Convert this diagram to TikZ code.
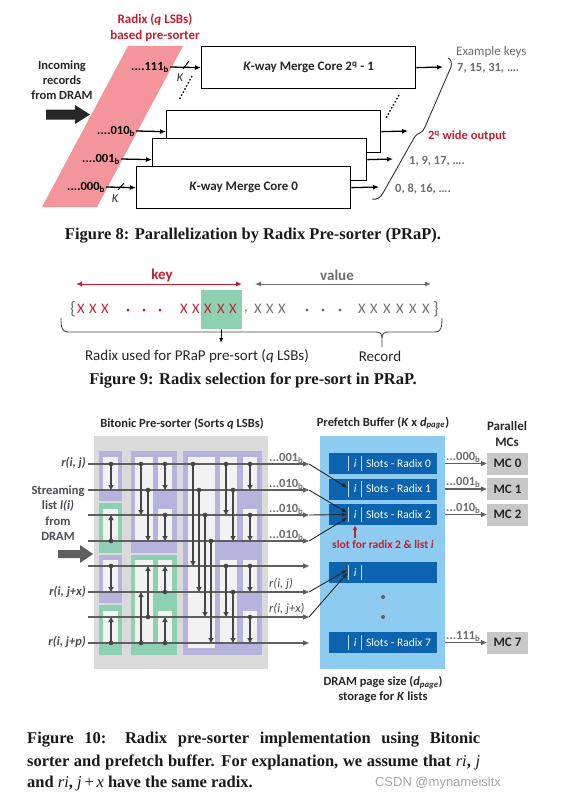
\documentclass[tikz,border=0pt]{standalone}
\usepackage{fontspec}
\setmainfont{Carlito}
\newfontfamily\capfont{Liberation Serif}
\newfontfamily\wmfont{Liberation Sans}
\usetikzlibrary{arrows.meta,calc}
\definecolor{pinkR}{RGB}{244,149,155}
\definecolor{redT}{RGB}{196,30,48}
\definecolor{darkT}{RGB}{38,38,38}
\definecolor{grayT}{RGB}{110,110,110}
\definecolor{lav}{RGB}{182,179,221}
\definecolor{grn}{RGB}{142,208,178}
\definecolor{bgG}{RGB}{218,218,218}
\definecolor{whP}{RGB}{242,242,242}
\definecolor{wireC}{RGB}{95,95,95}
\definecolor{cmpC}{RGB}{70,70,70}
\definecolor{pfb}{RGB}{142,203,240}
\definecolor{slotB}{RGB}{12,99,175}
\definecolor{mcG}{RGB}{200,200,200}
\definecolor{lblT}{RGB}{75,75,85}
\newcommand{\cmpr}[3]{\fill[cmpC] (#1,#2) circle (2.3);\draw[cmpst] (#1,#2) -- (#1,#3);}
\tikzset{
  lbl/.style={inner sep=0pt, font=\bfseries\fontsize{12.5}{15}\selectfont, text=darkT},
  core/.style={draw=black, line width=1.3pt, fill=white, anchor=north west, inner sep=0pt,
    minimum width=214, minimum height=42, font=\bfseries\fontsize{13}{15}\selectfont, text=darkT},
  arr/.style={line width=1.3pt, -{Latex[length=6pt,width=5pt]}},
  xch/.style={inner sep=0pt, font=\fontsize{14.5}{16}\selectfont},
  brch/.style={inner sep=0pt, font=\fontsize{18}{20}\selectfont},
  cmpst/.style={line width=1.6pt, draw=cmpC, -{Triangle[length=5pt,width=5pt]}},
  wirest/.style={line width=1.3pt, draw=wireC, -{Triangle[length=6pt,width=5pt]}},
  blk/.style={line width=0.9pt, draw=black!85, -{Latex[length=6pt,width=4pt]}},
  grayarr/.style={line width=1.3pt, draw=wireC, -{Triangle[length=6pt,width=5pt]}},
  slotbox/.style={fill=slotB, minimum width=108, minimum height=21, inner sep=0pt},
  mc/.style={fill=mcG, minimum width=41, minimum height=22, inner sep=0pt, font=\bfseries\fontsize{13}{15}\selectfont, text=darkT},
  captxt/.style={inner sep=0pt, font=\capfont\bfseries\fontsize{16.5}{20}\selectfont, text=black!90},
}
\begin{document}
\begin{tikzpicture}[x=1pt,y=-1pt]
\useasboundingbox (0,0) rectangle (577,800);
% ================= Figure 8 =================
\fill[pinkR] (128,46) -- (183,46) -- (97,207) -- (42,207) -- cycle;
\node[lbl, text=redT, align=center, font=\bfseries\fontsize{13}{15.5}\selectfont] (rtitle) at (155,27.5) {Radix (\textit{q} LSBs)\\based pre-sorter};
\node[lbl, align=center] (incoming) at (62,80) {Incoming\\records\\from DRAM};
\fill[black!85] (46,109.5) -- (75,109.5) -- (75,105) -- (90,114.5) -- (75,124) -- (75,119.5) -- (46,119.5) -- cycle;

\node[core] (core7) at (201,46) {\textit{K}-way Merge Core 2\textsuperscript{q} - 1};
\node[core] (core2) at (166,110) {};
\node[core] (core1) at (152,138) {};
\node[core] (core0) at (136,166) {\textit{K}-way Merge Core 0};

\node[lbl, anchor=east, inner sep=1pt, text=black] (r111) at (170,67) {....111\textsubscript{b}};
\node[lbl, anchor=east, inner sep=1pt, text=black] (r010) at (136,131) {....010\textsubscript{b}};
\node[lbl, anchor=east, inner sep=1pt, text=black] (r001) at (121,159) {....001\textsubscript{b}};
\node[lbl, anchor=east, inner sep=1pt, text=black] (r000) at (106,187) {....000\textsubscript{b}};
\draw[arr] (r111.east) -- (core7.west);
\draw[arr] (r010.east) -- (core2.west);
\draw[arr] (r001.east) -- (core1.west);
\draw[arr] (r000.east) -- (core0.west);
\draw[line width=1pt] (183,69) -- (189,61);
\draw[line width=1pt] (118,190) -- (124,183);
\node[lbl, font=\itshape\fontsize{12}{14}\selectfont] (kt) at (180,78) {K};
\node[lbl, font=\itshape\fontsize{12}{14}\selectfont] (kb) at (115,199) {K};
\draw[line width=1.3pt, dash pattern=on 1.5pt off 2pt] (192,76) -- (179,100);
\draw[line width=1.3pt, dash pattern=on 1.5pt off 2pt] (399,95) -- (386,118);

\coordinate (o7) at (443,67);
\coordinate (o2) at (408,131);
\coordinate (o1) at (393,159);
\coordinate (o0) at (379,187);
\draw[arr] (core7.east) -- (o7);
\draw[arr] (core2.east) -- (o2);
\draw[arr] (core1.east) -- (o1);
\draw[arr] (core0.east) -- (o0);
% brace
\draw[line width=0.9pt, draw=black!80] (372,199) .. controls (377,200) and (380,198) .. (383,193) -- (414,138) .. controls (416,135) and (418,133) .. (420,133) .. controls (422,132) and (424,130) .. (425,127) -- (451,67) .. controls (452,63) and (451,59) .. (448,58);
\node[lbl, anchor=west, font=\fontsize{13}{15}\selectfont, text=grayT] (exk) at (456,52) {Example keys};
\node[lbl, anchor=west, text=grayT] (k7) at (457,68) {7, 15, 31, ….};
\node[lbl, anchor=west, text=redT] (wide) at (428,136) {2\textsuperscript{q} wide output};
\node[lbl, anchor=west, text=grayT] (k1) at (409,161) {1, 9, 17, ….};
\node[lbl, anchor=west, text=grayT] (k0) at (395,189) {0, 8, 16, ….};
\node[captxt] (cap8) at (253,236) {Figure 8: Parallelization by Radix Pre-sorter (PRaP).};

% ================= Figure 9 =================
\node[lbl, text=redT, font=\bfseries\fontsize{15}{18}\selectfont] (key) at (162,275) {key};
\node[lbl, text=grayT, font=\bfseries\fontsize{15}{18}\selectfont] (val) at (337,275) {value};
\coordinate (kl) at (76,284); \coordinate (kr) at (242,284);
\coordinate (vl) at (255,284); \coordinate (vr) at (431,284);
\draw[redT, line width=1pt, {Latex[length=6pt,width=5pt]}-{Latex[length=6pt,width=5pt]}] (kl) -- (kr);
\draw[grayT, line width=1pt, {Latex[length=6pt,width=5pt]}-{Latex[length=6pt,width=5pt]}] (vl) -- (vr);
\node[fill=grn, minimum width=41, minimum height=39, inner sep=0pt, anchor=north west] (radix) at (201,290) {};
\node[brch, text=grayT] (lbr) at (73,309) {\{};
\node[brch, text=grayT] (rbr) at (436,309) {\}};
\foreach \x [count=\k] in {81,93,105,184,196,208,221,233}
  \node[xch, text=redT] (rx\k) at (\x,309) {X};
\foreach \x [count=\k] in {258,270,282,362,374,387,400,413,426}
  \node[xch, text=grayT] (gx\k) at (\x,309) {X};
\node[xch, text=grayT] (comma) at (246,312) {,};
\foreach \x in {128,144,160} \fill[redT] (\x,310) circle (1.6);
\foreach \x in {307,323,340} \fill[grayT] (\x,310) circle (1.6);
\draw[line width=0.8pt, draw=black!75] (61,318) .. controls (61,328) and (62,332) .. (68,332) -- (376,332) .. controls (380,332) and (382,334) .. (382,338) -- (382,347);
\draw[line width=0.8pt, draw=black!75] (382,338) .. controls (382,334) and (384,332) .. (388,332) -- (435,332) .. controls (441,332) and (442,328) .. (442,318);
\coordinate (rdx) at (221,343);
\draw[line width=0.8pt, -{Latex[length=5pt,width=4pt]}] (radix.south) -- (rdx);
\node[lbl, font=\fontsize{15}{18}\selectfont] (radixused) at (197,356) {Radix used for PRaP pre-sort (\textit{q} LSBs)};
\node[lbl, font=\fontsize{15}{18}\selectfont] (record) at (380,356) {Record};
\node[captxt] (cap9) at (253,381) {Figure 9: Radix selection for pre-sort in PRaP.};

% ================= Figure 10 =================
\node[lbl] (bitT) at (182,424) {Bitonic Pre-sorter (Sorts \textit{q} LSBs)};
\fill[bgG] (94,436) rectangle (268,669);
\fill[lav] (99,451) rectangle (122,501);
\fill[grn] (99,503) rectangle (122,553);
\fill[lav] (99,555) rectangle (122,603);
\fill[grn] (99,605) rectangle (122,655);
\fill[lav] (131,451) rectangle (177,553);
\fill[grn] (131,555) rectangle (177,655);
\fill[lav] (183,451) rectangle (262,655);
% white panels
\foreach \a/\b in {457/489, 509/540, 560/591, 611/642} {
  \fill[whP] (103,\a) rectangle (118,\b);
  \fill[whP] (158,\a) rectangle (172,\b);
  \fill[whP] (243,\a) rectangle (257,\b);
}
\foreach \a/\b in {457/540, 560/642} {
  \fill[whP] (135,\a) rectangle (153,\b);
  \fill[whP] (220,\a) rectangle (237,\b);
}
\fill[whP] (188,457) rectangle (215,648);
% wires
\foreach \y [count=\k] in {464,490,515,541,566,592,617,643} {
  \coordinate (wl\k) at (88,\y);
  \coordinate (wr\k) at (309,\y);
  \draw[wirest] (wl\k) -- (wr\k);
}
% comparators
\cmpr{111}{464}{490} \cmpr{111}{541}{515} \cmpr{111}{566}{592} \cmpr{111}{643}{617}
\cmpr{141}{464}{515} \cmpr{148}{490}{541} \cmpr{165}{464}{490} \cmpr{165}{515}{541}
\cmpr{141}{643}{592} \cmpr{148}{617}{566} \cmpr{165}{592}{566} \cmpr{165}{643}{617}
\cmpr{193}{464}{566} \cmpr{199}{490}{592} \cmpr{205}{515}{617} \cmpr{211}{541}{643}
\cmpr{226}{464}{515} \cmpr{233}{490}{541} \cmpr{226}{566}{617} \cmpr{233}{592}{643}
\cmpr{250}{464}{490} \cmpr{250}{515}{541} \cmpr{250}{566}{592} \cmpr{250}{617}{643}
% left labels
\node[lbl, anchor=east, text=lblT, font=\bfseries\itshape\fontsize{12.5}{15}\selectfont] (rij) at (86,463) {r(i, j)};
\node[lbl, anchor=east, text=lblT, font=\bfseries\itshape\fontsize{12.5}{15}\selectfont] (rijx) at (86,592) {r(i, j+x)};
\node[lbl, anchor=east, text=lblT, font=\bfseries\itshape\fontsize{12.5}{15}\selectfont] (rijp) at (86,642) {r(i, j+p)};
\node[lbl, align=center, text=lblT, font=\bfseries\fontsize{12.5}{15.3}\selectfont] (stream) at (58,513) {Streaming\\list \textit{l(i)}\\from\\DRAM};
\fill[wireC] (58,550) -- (80,550) -- (80,545) -- (93,554) -- (80,563) -- (80,558) -- (58,558) -- cycle;
% right labels on wires
\node[lbl, anchor=base west, text=grayT] (t1) at (269,461) {...001\textsubscript{b}};
\node[lbl, anchor=base west, text=grayT] (t2) at (269,487) {...010\textsubscript{b}};
\node[lbl, anchor=base west, text=grayT] (t3) at (269,512) {...010\textsubscript{b}};
\node[lbl, anchor=base west, text=grayT] (t4) at (269,538) {...010\textsubscript{b}};
\node[lbl, anchor=base west, text=lblT, font=\itshape\fontsize{12.5}{15}\selectfont] (t6) at (269,587) {r(i, j)};
\node[lbl, anchor=base west, text=lblT, font=\itshape\fontsize{12.5}{15}\selectfont] (t7) at (269,612) {r(i, j+x)};
% prefetch buffer
\node[lbl] (pfT) at (383,423) {Prefetch Buffer (\textit{K} x \textit{d}\textsubscript{\textit{page}})};
\node[fill=pfb, minimum width=125, minimum height=233, anchor=north west, inner sep=0pt] (pf) at (320,436) {};
\node[slotbox] (s0) at (383,463.5) {};
\node[slotbox] (s1) at (383,489) {};
\node[slotbox] (s2) at (383,514.5) {};
\node[slotbox] (s3) at (383,572.5) {};
\node[slotbox] (s7) at (383,642.5) {};
\foreach \n/\t in {s0/Slots - Radix 0, s1/Slots - Radix 1, s2/Slots - Radix 2, s3/, s7/Slots - Radix 7} {
  \draw[line width=1pt, draw=pfb!60!white] ($(\n.north west)+(20,3)$) -- ($(\n.south west)+(20,-3)$);
  \draw[line width=1pt, draw=pfb!60!white] ($(\n.north west)+(33,3)$) -- ($(\n.south west)+(33,-3)$);
  \node[inner sep=0pt, text=white, font=\itshape\fontsize{11.5}{13}\selectfont] (\n-i) at ($(\n.west)+(26.5,0)$) {i};
  \node[inner sep=0pt, anchor=west, text=white, font=\fontsize{11.5}{13}\selectfont] (\n-t) at ($(\n.west)+(37,0)$) {\t};
}
\fill[wireC] (383,597) circle (2);
\fill[wireC] (383,617) circle (2);
\node[lbl, text=redT, font=\bfseries\fontsize{11.5}{13}\selectfont] (slotlbl) at (383,545) {slot for radix 2 \& list \textit{i}};
\coordinate (ra) at (355,538);
\draw[redT, line width=1.2pt, -{Latex[length=5pt,width=5pt]}] (ra) -- (ra |- s2.south);
% black arrows into slots
\draw[blk] (wr1) -- ($(s1.west)+(19,-1)$);
\draw[blk] (wr2) -- ($(s2.west)+(19,-1.5)$);
\draw[blk] (wr3) -- ($(s2.west)+(19,0)$);
\draw[blk] (wr4) -- ($(s2.west)+(19,3)$);
\draw[blk] (wr6) -- ($(s3.west)+(19,-3)$);
\draw[blk] (wr7) -- ($(s3.west)+(19,0)$);
% MCs
\node[lbl, align=center, font=\bfseries\fontsize{13}{16}\selectfont] (parT) at (507,434) {Parallel\\MCs};
\node[mc] (mc0) at (507.5,463.5) {MC 0};
\node[mc] (mc1) at (507.5,489) {MC 1};
\node[mc] (mc2) at (507.5,514.5) {MC 2};
\node[mc] (mc7) at (507.5,642.5) {MC 7};
\draw[grayarr] (s0.east -| pf.east) -- (mc0.west);
\draw[grayarr] (s1.east -| pf.east) -- (mc1.west);
\draw[grayarr] (s2.east -| pf.east) -- (mc2.west);
\draw[grayarr] (s7.east -| pf.east) -- (mc7.west);
\node[lbl, anchor=base west, text=grayT] (m0) at (446,460) {...000\textsubscript{b}};
\node[lbl, anchor=base west, text=grayT] (m1) at (446,485.5) {...001\textsubscript{b}};
\node[lbl, anchor=base west, text=grayT] (m2) at (446,511) {...010\textsubscript{b}};
\node[lbl, anchor=base west, text=grayT] (m7) at (446,639) {...111\textsubscript{b}};
\node[lbl, align=center, font=\bfseries\fontsize{12.5}{15}\selectfont] (dram) at (383,689.5) {DRAM page size (\textit{d}\textsubscript{\textit{page}})\\storage for \textit{K} lists};
% caption 10
\node[captxt, anchor=west] (c10a) at (27,740) {\makebox[453pt][s]{Figure 10: Radix pre-sorter implementation using Bitonic}};
\node[captxt, anchor=west] (c10b) at (27,762) {\makebox[453pt][s]{sorter and prefetch buffer. For explanation, we assume that \textmd{\textit{ri}}, \textmd{\textit{j}}}};
\node[captxt, anchor=west] (c10c) at (27,784) {and \textmd{\textit{ri}}, \textmd{\textit{j}\,+\,\textit{x}} have the same radix.};
\node[inner sep=0pt, font=\wmfont\fontsize{13}{15}\selectfont, text=black!35] (wm) at (438,783) {CSDN @mynameisltx};
\end{tikzpicture}
\end{document}
